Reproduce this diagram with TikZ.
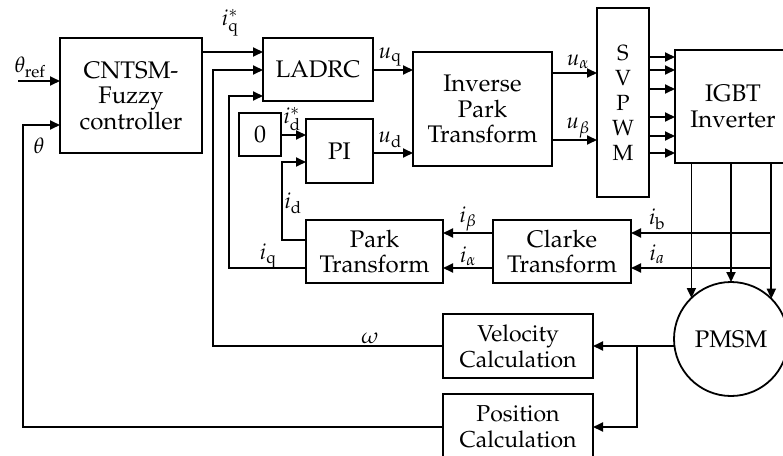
\documentclass[tikz,border=0pt]{standalone}
\usepackage[T1]{fontenc}
\usepackage{mathpazo}
\usetikzlibrary{arrows.meta,calc}
\begin{document}
\begin{tikzpicture}[x=1pt,y=-1pt,
  every node/.style={font=\fontsize{24}{25.5}\selectfont, inner sep=0pt, outer sep=0pt},
  blk/.style={draw, line width=1.8pt, align=center},
  lbl/.style={font=\fontsize{22}{24}\selectfont},
  wire/.style={line width=1.8pt},
  arr/.style={wire, -{Triangle[length=10pt,width=9pt]}},
]
\useasboundingbox (0,0) rectangle (783,455);
\clip (0,0) rectangle (783,455);

% blocks
\node[blk, minimum width=142, minimum height=115] (cntsm) at (131,95.5) {CNTSM-\\Fuzzy\\controller};
\node[blk, minimum width=110, minimum height=63] (ladrc) at (318,69.5) {LADRC};
\node[blk, minimum width=42, minimum height=43] (zero) at (260,134.5) {0};
\node[blk, minimum width=67, minimum height=64] (pi) at (339.5,151) {PI};
\node[blk, minimum width=139, minimum height=114] (ipark) at (482.5,109) {Inverse\\Park\\Transform};
\node[blk, minimum width=52, minimum height=189, font=\fontsize{22}{25}\selectfont] (svpwm) at (623,102.5) {S\\V\\P\\W\\M};
\node[blk, minimum width=116, minimum height=113] (igbt) at (733,106.5) {IGBT\\Inverter};
\node[blk, minimum width=137, minimum height=63] (park) at (374.5,251.5) {Park\\Transform};
\node[blk, minimum width=138, minimum height=63] (clarke) at (562,251.5) {Clarke\\Transform};
\node[blk, minimum width=150, minimum height=64, font=\fontsize{23}{26}\selectfont] (vel) at (518,346) {Velocity\\Calculation};
\node[blk, minimum width=150, minimum height=66, font=\fontsize{23}{26}\selectfont] (pos) at (518,427) {Position\\Calculation};
\node[blk, circle, minimum size=114] (pmsm) at (731,339) {PMSM};

% reference input
\coordinate (thin) at (18,81);
\draw[arr] (thin) -- (cntsm.west |- thin);
\node[lbl] (lthref) at (30,67) {$\theta_{\mathrm{ref}}$};

% position feedback
\draw[arr] (pos.west) -| (23,125) -- (cntsm.west |- 0,125);
\node[lbl] (lth) at (39,146) {$\theta$};

% iq*
\draw[arr] (cntsm.east |- 0,52) -- (ladrc.west |- 0,52);
\node[lbl] (liqs) at (230,23) {$i_{\mathrm{q}}^{*}$};

% omega feedback
\draw[arr] (vel.west) -| (213,70) -- (ladrc.west |- 0,70);
\node[lbl] (lw) at (370,338) {$\omega$};

% iq feedback
\draw[arr] (park.west |- 0,268) -| (229,96) -- (ladrc.west |- 0,96);
\node[lbl] (liq) at (268,256) {$i_{\mathrm{q}}$};

% id* and id
\draw[arr] (zero.east |- 0,135) -- (pi.west |- 0,135);
\node[lbl] (lids) at (292,119) {$i_{\mathrm{d}}^{*}$};
\draw[arr] (park.west |- 0,240) -| (282,162) -- (pi.west |- 0,162);
\node[lbl] (lid) at (293,203) {$i_{\mathrm{d}}$};

% uq, ud
\draw[arr] (ladrc.east |- 0,70) -- (ipark.west |- 0,70);
\node[lbl] (luq) at (390,57) {$u_{\mathrm{q}}$};
\draw[arr] (pi.east |- 0,153) -- (ipark.west |- 0,153);
\node[lbl] (lud) at (390,140) {$u_{\mathrm{d}}$};

% ualpha, ubeta
\draw[arr] (ipark.east |- 0,73) -- (svpwm.west |- 0,73);
\node[lbl] (lua) at (578,62) {$u_{\alpha}$};
\draw[arr] (ipark.east |- 0,140) -- (svpwm.west |- 0,140);
\node[lbl] (lub) at (578,128) {$u_{\beta}$};

% PWM signals
\foreach \yy in {57,70,89,117,136,153}
  \draw[arr] (svpwm.east |- 0,\yy) -- (igbt.west |- 0,\yy);

% phases to motor
\draw[arr] (igbt.south -| pmsm.134.6) -- (pmsm.134.6);
\draw[arr] (igbt.south -| pmsm.north) -- (pmsm.north);
\draw[arr] (igbt.south -| pmsm.45.4) -- (pmsm.45.4);

% current measurement
\draw[arr] (pmsm.45.4 |- 0,233) -- (clarke.east |- 0,233);
\node[lbl] (lib) at (657,219) {$i_{\mathrm{b}}$};
\draw[arr] (pmsm.45.4 |- 0,268) -- (clarke.east |- 0,268);
\node[lbl] (lia) at (657,254) {$i_{a}$};

\draw[arr] (clarke.west |- 0,233) -- (park.east |- 0,233);
\node[lbl] (libeta) at (468,219) {$i_{\beta}$};
\draw[arr] (clarke.west |- 0,268) -- (park.east |- 0,268);
\node[lbl] (lial) at (468,256) {$i_{\alpha}$};

% motor to velocity / position
\draw[arr] (pmsm.west |- vel.east) -- (vel.east);
\draw[arr] (vel.east -| 637,0) |- (pos.east);
\end{tikzpicture}
\end{document}
